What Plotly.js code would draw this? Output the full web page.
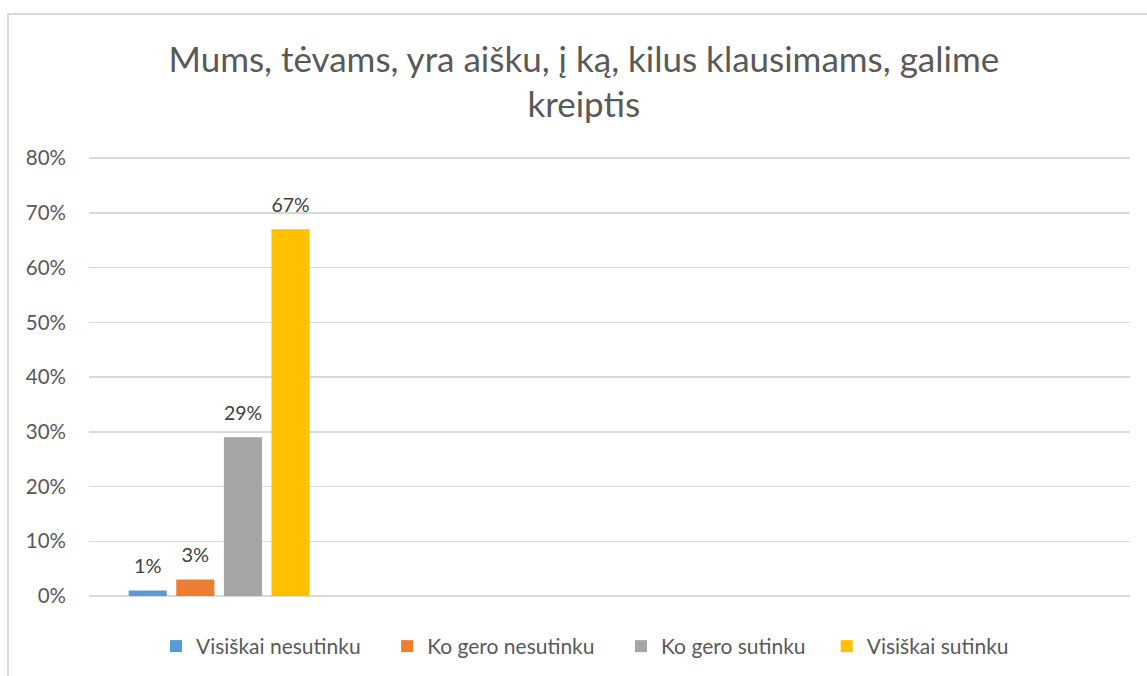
<!DOCTYPE html>
<html>
<head>
<meta charset="utf-8">
<script src="https://cdn.plot.ly/plotly-3.0.1.min.js"></script>
<style>
html,body{margin:0;padding:0;background:#fff;overflow:hidden;}
#chart{width:1147px;height:676px;}
#frame{position:absolute;left:7px;top:13px;width:1200px;height:700px;border:2px solid #d9d9d9;pointer-events:none;}
</style>
</head>
<body>
<div id="chart"></div>
<div id="frame"></div>
<script>
const categories = ["Q1", "Q2", "Q3", "Q4"];
const seriesNames = ["Visiškai nesutinku", "Ko gero nesutinku", "Ko gero sutinku", "Visiškai sutinku"];
const seriesValues = [0.01, 0.03, 0.29, 0.67];
const colors = ["#5B9BD5", "#ED7D31", "#A5A5A5", "#FFC000"];
const yTickVals = [0, 0.1, 0.2, 0.3, 0.4, 0.5, 0.6, 0.7, 0.8];
const yTickText = ["0%", "10%", "20%", "30%", "40%", "50%", "60%", "70%", "80%"];

const FONT = "Lato, 'Open Sans', sans-serif";
const PADS = ["\u00a0\u00a0\u00a0\u00a0", "\u00a0\u00a0\u00a0\u00a0", "\u00a0\u00a0\u00a0", ""];
const traces = seriesNames.map((name, i) => ({
  type: "bar",
  name: name + PADS[i],
  x: [categories[0]],
  y: [seriesValues[i]],
  marker: {color: colors[i]},
  text: ["<span style='font-size:20px'>" + Math.round(seriesValues[i] * 100) + "%</span><br> "],
  textposition: "outside",
  cliponaxis: false,
  textfont: {family: FONT, size: 10, color: "#404040"},
  hoverinfo: "none"
}));

const layout = {
  width: 1147, height: 676,
  margin: {l: 89, r: 17, t: 156, b: 80},
  paper_bgcolor: "#fff", plot_bgcolor: "#fff",
  title: {
    text: "Mums, tėvams, yra aišku, į ką, kilus klausimams, galime<br>kreiptis",
    font: {family: FONT, size: 35, color: "#595959"},
    x: 0.509, xanchor: "center", y: 0.894, yanchor: "top"
  },
  barmode: "group",
  bargap: 0.268,
  bargroupgap: 0.2,
  xaxis: {
    type: "category",
    categoryorder: "array",
    categoryarray: categories,
    range: [-0.5, 3.5],
    showticklabels: false,
    showgrid: false,
    zeroline: false,
    showline: false,
    ticks: ""
  },
  yaxis: {
    range: [0, 0.804],
    tickvals: yTickVals,
    ticktext: yTickText,
    showgrid: true,
    gridcolor: "#d9d9d9",
    gridwidth: 1.5,
    zeroline: true,
    zerolinecolor: "#d9d9d9",
    zerolinewidth: 1.5,
    showline: false,
    ticks: "",
    ticklabelstandoff: 22,
    tickfont: {family: FONT, size: 20.5, color: "#595959"}
  },
  showlegend: true,
  legend: {
    orientation: "h",
    x: 0.51, xanchor: "center", xref: "container",
    y: 0.074, yanchor: "top", yref: "container",
    font: {family: FONT, size: 21, color: "#595959"},
    itemwidth: 30,
    traceorder: "normal"
  }
};

Plotly.newPlot("chart", traces, layout, {displayModeBar: false, staticPlot: true});
</script>
</body>
</html>
